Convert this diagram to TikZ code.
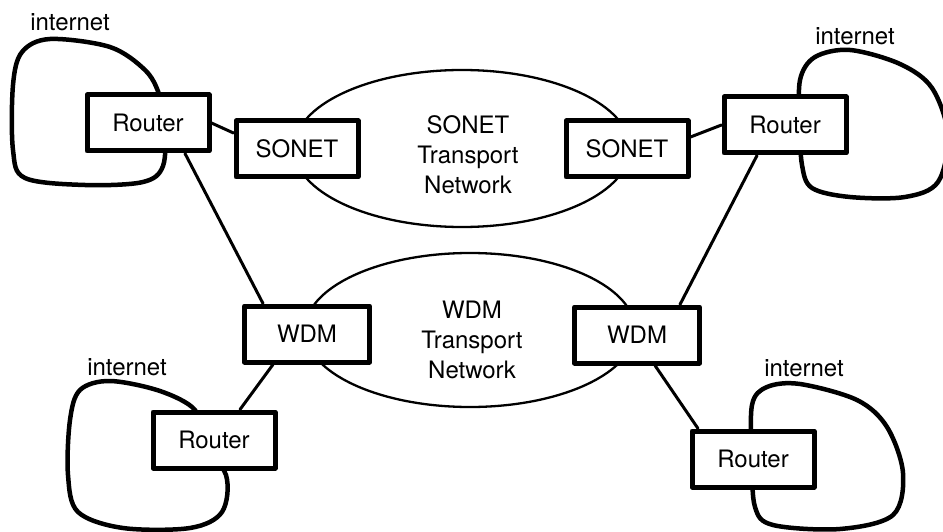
\documentclass[tikz,border=0pt]{standalone}
\usepackage{fontspec}
\setmainfont{TeX Gyre Heros}
\usetikzlibrary{shapes.geometric}

\begin{document}
\begin{tikzpicture}[
  x=1pt,
  y=-1pt,
  line join=round,
  line cap=round,
  every node/.style={font=\fontsize{24}{30}\selectfont},
  unit/.style={draw,fill=white,line width=5pt,minimum width=122pt,minimum height=56pt,inner sep=0pt},
  transport/.style={draw,ellipse,line width=2.3pt,inner sep=0pt},
  netlabel/.style={align=center,inner sep=0pt},
  link/.style={draw,line width=3pt},
  cloudline/.style={draw,line width=4.5pt,smooth cycle,tension=0.55}
]
  \useasboundingbox (0,0) rectangle (943,532);

  % Internet clouds go first, so the routers cover their inner ends.
  \draw[cloudline] plot coordinates {(165,125) (159,94) (145,70) (110,47) (50,39) (22,52)
    (13,85) (13,150) (25,178) (85,185) (143,182) (163,166)};
  \draw[cloudline] plot coordinates {(800,125) (800,80) (815,57) (850,50) (900,64) (932,88)
    (948,135) (938,182) (905,197) (850,197) (812,188) (802,165)};
  \draw[cloudline] plot coordinates {(200,440) (195,410) (160,391) (110,381) (80,390)
    (70,420) (68,475) (78,512) (123,528) (190,528) (222,512) (226,475)};
  \draw[cloudline] plot coordinates {(752,460) (752,405) (767,387) (800,384) (857,400)
    (887,427) (903,473) (893,515) (840,529) (773,525) (755,507)};

  \node at (70,22) (inettl) {internet};
  \node at (855,36) (inettr) {internet};
  \node at (127,367) (inetbl) {internet};
  \node at (804,368) (inetbr) {internet};

  % Transport networks.
  \node[transport,minimum width=336pt,minimum height=157pt] (sonetnet) at (462,148.5) {};
  \node[netlabel] (sonettxt) at (468,155) {SONET\\Transport\\Network};
  \node[transport,minimum width=330pt,minimum height=154pt] (wdmnet) at (470,330) {};
  \node[netlabel] (wdmtxt) at (472,340) {WDM\\Transport\\Network};

  % Boxes.
  \node[unit] (routertl) at (148,123) {Router};
  \node[unit] (routertr) at (785,125) {Router};
  \node[unit] (routerbl) at (214,440) {Router};
  \node[unit] (routerbr) at (753,459) {Router};
  \node[unit] (sonetl) at (297,149) {SONET};
  \node[unit] (sonetr) at (627,149) {SONET};
  \node[unit,minimum width=125pt] (wdml) at (307,334) {WDM};
  \node[unit,minimum width=125pt] (wdmr) at (637,335) {WDM};

  % Links between the boxes.
  \draw[link] (routertl.east) -- ([yshift=16pt]sonetl.west);
  \draw[link] (routertr.west) -- ([yshift=12pt]sonetr.east);
  \draw[link] ([xshift=37pt]routertl.south) -- ([xshift=-44pt]wdml.north);
  \draw[link] ([xshift=-28pt]routertr.south) -- ([xshift=43pt]wdmr.north);
  \draw[link] ([xshift=-34pt]wdml.south) -- ([xshift=26pt]routerbl.north);
  \draw[link] ([xshift=18pt]wdmr.south) -- ([xshift=-55pt]routerbr.north);
\end{tikzpicture}
\end{document}
